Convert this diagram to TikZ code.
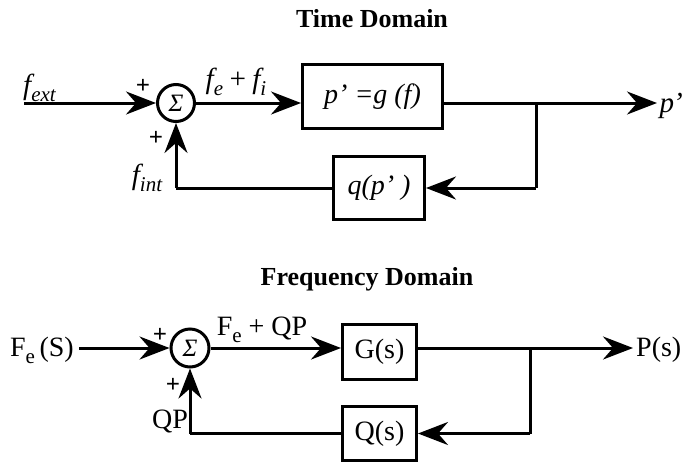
\documentclass[tikz,border=0pt]{standalone}
\usepackage{fontspec}
\setmainfont{Liberation Serif}
\usetikzlibrary{arrows.meta}
\newcommand\lsub[1]{\raisebox{-0.25em}{\fontsize{21}{21}\selectfont #1}}
\tikzset{
  ln/.style={line width=3pt},
  arr/.style={ln,-{Stealth[length=30pt,width=23pt,inset=10pt]}},
  sumnode/.style={circle,draw,line width=3pt,minimum size=37pt,inner sep=0pt,font=\fontsize{25}{25}\selectfont\itshape},
  blk/.style={draw,line width=3pt,inner sep=0pt,font=\fontsize{28}{30}\selectfont},
  lbl/.style={inner sep=0pt,font=\fontsize{28}{30}\selectfont},
  ilbl/.style={inner sep=0pt,font=\fontsize{29}{30}\selectfont\itshape},
  pls/.style={inner sep=0pt,font=\fontsize{25}{25}\selectfont\bfseries},
  ttl/.style={inner sep=0pt,font=\fontsize{26}{30}\selectfont\bfseries}
}
\begin{document}
\begin{tikzpicture}[x=1pt,y=-1pt]
\useasboundingbox (0,0) rectangle (683,464);
% ---------- Time domain ----------
\node[ttl] (t1) at (372,19) {Time Domain};
\node[sumnode] (s1) at (176,103) {Σ};
\node[blk,minimum width=140pt,minimum height=64pt,font=\fontsize{28}{30}\selectfont\itshape] (g) at (372.5,96.5) {p' =g (f)};
\node[blk,minimum width=91pt,minimum height=63pt,font=\fontsize{28}{30}\selectfont\itshape] (q) at (379,188) {q(p' )};
\coordinate (in1) at (24,103);
\coordinate (j1) at (536,103);
\coordinate (out1) at (657,103);
\draw[arr] (in1) -- (s1.west);
\draw[arr] (s1.east) -- (s1 -| g.west);
\draw[arr] (g.east |- s1) -- (out1);
\draw[ln] (j1) -- (j1 |- q);
\draw[arr] (j1 |- q) -- (q.east);
\draw[ln] (q.west) -- (q.west -| s1);
\draw[arr] (q.west -| s1) -- (s1.south);
\node[ilbl,anchor=base west] (lext) at (23,94) {f\lsub{ext}};
\node[pls] (p1) at (143,86) {+};
\node[pls] (p2) at (156,138) {+};
\node[ilbl] (lfe) at (236,82) {f\lsub{e}\,+\,f\lsub{i}};
\node[ilbl] (lint) at (147,178) {f\lsub{int}};
\node[ilbl,anchor=east] (lp) at (683,106) {p\kern-1pt'};
% ---------- Frequency domain ----------
\node[ttl] (t2) at (367,279) {Frequency Domain};
\node[sumnode,minimum size=38pt] (s2) at (190,348) {Σ};
\node[blk,minimum width=74pt,minimum height=55pt] (G) at (379.5,352) {G(s)};
\node[blk,minimum width=74pt,minimum height=54pt] (Q) at (379.5,433.5) {Q(s)};
\coordinate (in2) at (79,348);
\coordinate (j2) at (530,348);
\coordinate (out2) at (633,348);
\draw[arr] (in2) -- (s2.west);
\draw[arr] (s2.east) -- (s2 -| G.west);
\draw[arr] (G.east |- s2) -- (out2);
\draw[ln] (j2) -- (j2 |- Q);
\draw[arr] (j2 |- Q) -- (Q.east);
\draw[ln] (Q.west) -- (Q.west -| s2);
\draw[arr] (Q.west -| s2) -- (s2.south);
\node[lbl,anchor=east] (lFe) at (74,350) {F\lsub{e}\,(S)};
\node[pls] (p3) at (160,335) {+};
\node[pls] (p4) at (173,385) {+};
\node[lbl] (lfq) at (262,330) {F\lsub{e} + QP};
\node[lbl] (lqp) at (170,421) {QP};
\node[lbl,anchor=west] (lP) at (636,350) {P(s)};
\end{tikzpicture}
\end{document}
